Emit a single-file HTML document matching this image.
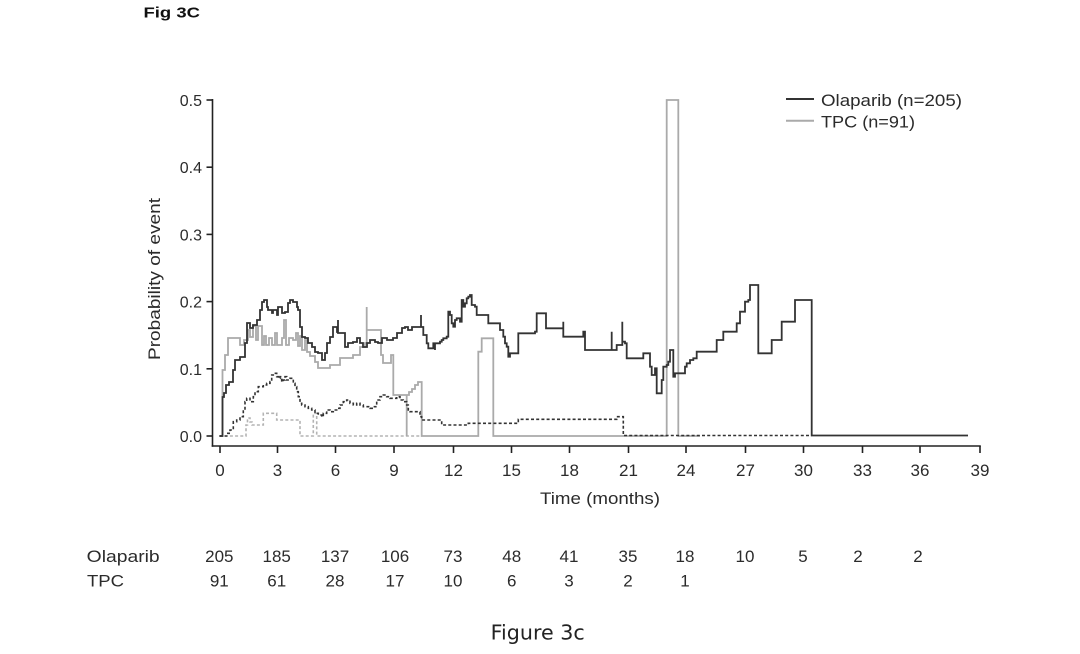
<!DOCTYPE html>
<html>
<head>
<meta charset="utf-8">
<style>
html,body{margin:0;padding:0;background:#fff;}
body{width:1080px;height:654px;overflow:hidden;}
svg{display:block;}
text{font-family:"Liberation Sans",Arial,sans-serif;fill:#2b2b2b;}
</style>
</head>
<body>
<svg width="1080" height="654" viewBox="0 0 1080 654" xmlns="http://www.w3.org/2000/svg">
<rect width="1080" height="654" fill="#fff"/>

<!-- Title -->
<text x="143.5" y="17.5" font-size="15" font-weight="bold" textLength="56.5" lengthAdjust="spacingAndGlyphs" style="fill:#111">Fig 3C</text>

<!-- Y axis label -->
<text transform="translate(160,279) rotate(-90)" text-anchor="middle" font-size="16.5" textLength="162" lengthAdjust="spacingAndGlyphs">Probability of event</text>

<!-- Y ticks -->
<g stroke="#222" stroke-width="1.6">
<line x1="212.5" y1="99" x2="212.5" y2="446.8"/>
<line x1="206.5" y1="100" x2="212.5" y2="100"/>
<line x1="206.5" y1="167.2" x2="212.5" y2="167.2"/>
<line x1="206.5" y1="234.4" x2="212.5" y2="234.4"/>
<line x1="206.5" y1="301.6" x2="212.5" y2="301.6"/>
<line x1="206.5" y1="368.8" x2="212.5" y2="368.8"/>
<line x1="206.5" y1="436" x2="212.5" y2="436"/>
</g>
<g font-size="16" text-anchor="end">
<text x="202" y="106">0.5</text>
<text x="202" y="173.2">0.4</text>
<text x="202" y="240.4">0.3</text>
<text x="202" y="307.6">0.2</text>
<text x="202" y="374.8">0.1</text>
<text x="202" y="442">0.0</text>
</g>

<!-- X axis -->
<g stroke="#222" stroke-width="1.6">
<line x1="211.7" y1="446" x2="980.8" y2="446"/>
<line x1="220" y1="446" x2="220" y2="453"/>
<line x1="277.5" y1="446" x2="277.5" y2="453"/>
<line x1="335.5" y1="446" x2="335.5" y2="453"/>
<line x1="394" y1="446" x2="394" y2="453"/>
<line x1="453.5" y1="446" x2="453.5" y2="453"/>
<line x1="511.5" y1="446" x2="511.5" y2="453"/>
<line x1="569.5" y1="446" x2="569.5" y2="453"/>
<line x1="628.5" y1="446" x2="628.5" y2="453"/>
<line x1="686" y1="446" x2="686" y2="453"/>
<line x1="745.5" y1="446" x2="745.5" y2="453"/>
<line x1="803.5" y1="446" x2="803.5" y2="453"/>
<line x1="862.5" y1="446" x2="862.5" y2="453"/>
<line x1="920" y1="446" x2="920" y2="453"/>
<line x1="980" y1="446" x2="980" y2="453"/>
</g>
<g font-size="17" text-anchor="middle">
<text x="220" y="476">0</text>
<text x="277.5" y="476">3</text>
<text x="335.5" y="476">6</text>
<text x="394" y="476">9</text>
<text x="453.5" y="476">12</text>
<text x="511.5" y="476">15</text>
<text x="569.5" y="476">18</text>
<text x="628.5" y="476">21</text>
<text x="686" y="476">24</text>
<text x="745.5" y="476">27</text>
<text x="803.5" y="476">30</text>
<text x="862.5" y="476">33</text>
<text x="920" y="476">36</text>
<text x="980" y="476">39</text>
</g>
<text x="600" y="504" font-size="17" text-anchor="middle" textLength="120" lengthAdjust="spacingAndGlyphs">Time (months)</text>

<!-- Series -->
<g fill="none" stroke-linejoin="miter">
<!-- TPC dashed -->
<path stroke="#b3b3b3" stroke-width="1.6" stroke-dasharray="3 2.2" d="M219.5 436 H246 V425 H247.5 V418 H250 V422 H252 V425 H263.3 V413.3 H276.7 V420 H300 V436 H313.3 V413.3 H316.7 V436 H422"/>
<!-- TPC solid -->
<path stroke="#aaaaaa" stroke-width="1.8" d="M219.5 436 H222.5 V370 H225 V355 H228 V338 H240 V345 H244 V340 H248 V330 H250 V337 H253 V326 H256 V340 H258 V326 H262 V345 H264 V336 H266 V345 H269 V338 H272 V345 H275 V333 H277 V345 H282 V338 H284 V320 H286 V345 H289 V338 H293 V340 H296 V333 H298 V346 H300 V336 H302 V350 H305 V340 H307 V352 H310 V356 H315 V362 H318 V368 H330 V365 H340 V358 H353 V355 H360 V347 H365 V343 H366.7 V307 V330 H381 V355 H383 V363 H391 V355 H393.3 V395 H406.7 V436 V395 H409 V392 H412 V389 H415 V385 H418 V382 H421.7 V436 H478.3 V351.7 H481.7 V338.3 H493.3 V436 H666.7 V100 H678.3 V436 H700"/>
<!-- Olaparib dashed -->
<path stroke="#333" stroke-width="1.6" stroke-dasharray="3 2.2" d="M219.3 436 H226.7 V433.3 H230 V430 H233.3 V421.7 H236.7 V420 H240 V416.7 H243.3 V410 H245 V401.7 H246.7 V398.3 H250 V401.7 H253.3 V396.7 H255 V391.7 H258.3 V386.7 H263.3 V385 H266.7 V383.3 H270 V381.7 H271.7 V375 H273.3 V373.3 H276.7 V376.7 H278.3 V378.3 H280 V376.7 H281.7 V381.7 H283.3 V380 H285 V376.7 H286.7 V380 H290 V378.3 H293.3 V383.3 H295 V386.7 H296.7 V391.7 H298.3 V396.7 H300 V403.3 H301.7 V405 H305 V406.7 H308.3 V408.3 H311.7 V410 H315 V413.3 H318.3 V415 H321.7 V416.7 H323.3 V413.3 H326.7 V410 H330 V411.7 H333.3 V410 H336.7 V408.3 H340 V405 H343.3 V401.7 H346.7 V400 H350 V403.3 H353.3 V405 H356.7 V403.3 H360 V405 H363.3 V406.7 H370 V408.3 H373.3 V406.7 H376.7 V400 H380 V396.7 H383.3 V395 H386.7 V396.7 H390 V398.3 H396.7 V396.7 H400 V400 H403.3 V401.7 H406.7 V405 H408.3 V410 H410 V411.7 H420 V416.7 H421.7 V420 H441.7 V425 H468.3 V423.3 H518.3 V419.3 H616.7 V416.7 H623.3 V435.5 H811.7"/>
<!-- Olaparib solid -->
<path stroke="#333" stroke-width="1.8" d="M219.5 436 H222.5 V397 H224 V393 H226 V385 H229 V382 H233 V370 H235 V360 H240 V357 H245 V343 H247 V323 H250 V328 H253 V325 H257 V320 H260 V310 H262 V302 H264 V300 H267 V307 H268 V310 H272 V313 H273 V310 H277 V315 H278 V307 H282 V313 H285 V312 H288 V303 H290 V300 H293 V302 H297 V307 H298 V310 H300 V327 H302 V337 H305 V338 H308 V343 H312 V347 H315 V352 H318 V353 H322 V360 H325 V353 H327 V343 H330 V337 H333 V327 H337 V332 H338 V320 V333 H345 V347 H348 V343 H353 V342 H357 V338 H360 V343 H363 V347 H367 V343 H370 V340 H375 V342 H378 V343 H382 V338 H387 V340 H393 V338 H397 V333 H402 V328 H405 V327 H408 V330 H412 V327 H421 V315 V327 H423.3 V335 H426.7 V343.3 H428.3 V348.3 H433.3 V343.3 H435 V350 V343.3 H440 V341.7 H441.7 V340 H443.3 V338.3 H446.7 V336.7 H448.3 V311.7 H450 V315 H451.7 V323.3 H453.3 V326.7 H455 V320 H456.7 V318.3 H460 V321.7 H461.7 V300 H463.3 V306.7 H465 V303.3 H466.7 V298.3 H468.3 V296.7 H470 V295 H471.7 V305 H475 V306.7 H476.7 V315 H488.3 V323.3 H500 V330 H503.3 V336.7 H505 V343.3 H506.7 V346.7 H508.3 V356.7 H510 V353.3 H518.3 V333.3 H535 V331.7 H536.7 V313.3 H546 V328.3 H563.3 V321.7 V336.7 H583.3 V331.7 H585 V350 H611.7 V331.7 V350 H616.7 V345 H622.3 V321.7 V341.7 H625 V343.3 H626.7 V358.3 H643.3 V353.3 H650 V366.7 H651.7 V375 H655 V368.3 H656.7 V393.3 H661.7 V380 H663.3 V366.7 H666.7 V365 H668.3 V361.7 H670 V350 H673.3 V376.7 H675 V373.3 H685 V366.7 H686.7 V363.3 H690 V360 H693.3 V358.3 H696.7 V351.7 H716.7 V340 H723.3 V331.7 H736.7 V323.3 H740 V311.7 H745 V301.7 H748.3 V300 H750 V285 H758.3 V353.3 H771.7 V340 H781.7 V321.7 H795 V300 H811.7 V435.5 H968"/>
</g>

<!-- Legend -->
<line x1="786" y1="99" x2="814" y2="99" stroke="#333" stroke-width="2"/>
<line x1="786" y1="120.7" x2="814" y2="120.7" stroke="#aaa" stroke-width="2"/>
<text x="821" y="106" font-size="17" textLength="141" lengthAdjust="spacingAndGlyphs">Olaparib (n=205)</text>
<text x="821" y="127.5" font-size="17" textLength="94" lengthAdjust="spacingAndGlyphs">TPC (n=91)</text>

<!-- Numbers at risk -->
<text x="86.7" y="562" font-size="17" textLength="73" lengthAdjust="spacingAndGlyphs">Olaparib</text>
<text x="87" y="586.5" font-size="17" textLength="37" lengthAdjust="spacingAndGlyphs">TPC</text>
<g font-size="17" text-anchor="middle">
<text x="219.3" y="562">205</text>
<text x="276.7" y="562">185</text>
<text x="335" y="562">137</text>
<text x="395" y="562">106</text>
<text x="453" y="562">73</text>
<text x="511.7" y="562">48</text>
<text x="569" y="562">41</text>
<text x="628" y="562">35</text>
<text x="685" y="562">18</text>
<text x="745" y="562">10</text>
<text x="803" y="562">5</text>
<text x="858" y="562">2</text>
<text x="918" y="562">2</text>
<text x="219.3" y="586.5">91</text>
<text x="276.7" y="586.5">61</text>
<text x="335" y="586.5">28</text>
<text x="395" y="586.5">17</text>
<text x="453" y="586.5">10</text>
<text x="511.7" y="586.5">6</text>
<text x="569" y="586.5">3</text>
<text x="628" y="586.5">2</text>
<text x="685" y="586.5">1</text>
</g>

<!-- Caption -->
<text x="490.7" y="639.3" font-size="20" textLength="94" lengthAdjust="spacingAndGlyphs" style="font-family:'DejaVu Sans',Verdana,sans-serif;fill:#222">Figure 3c</text>
</svg>
</body>
</html>
